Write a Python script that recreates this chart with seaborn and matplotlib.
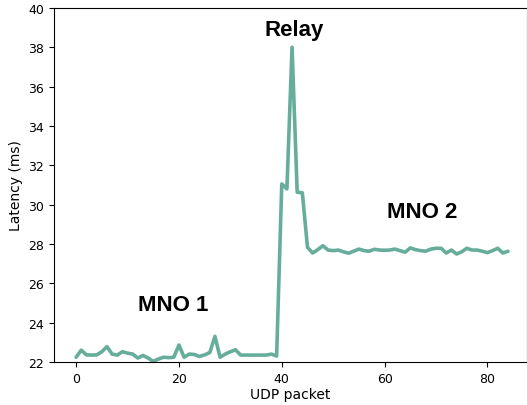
import matplotlib
matplotlib.use("Agg")
import matplotlib.pyplot as plt
import seaborn as sns
import pandas as pd

# latency per UDP packet (ms)
latency = [
    22.24, 22.60, 22.36, 22.35, 22.36, 22.52, 22.78, 22.40, 22.35, 22.52,
    22.45, 22.40, 22.20, 22.33, 22.20, 22.03, 22.15, 22.24, 22.22, 22.24,
    22.86, 22.24, 22.40, 22.38, 22.28, 22.36, 22.48, 23.30, 22.24, 22.40,
    22.52, 22.62, 22.35, 22.35, 22.35, 22.35, 22.35, 22.35, 22.40, 22.30,
    31.05, 30.80, 38.00, 30.63, 30.60, 27.83, 27.54, 27.71, 27.91, 27.69,
    27.66, 27.69, 27.60, 27.53, 27.63, 27.74, 27.66, 27.63, 27.73, 27.69,
    27.68, 27.69, 27.74, 27.66, 27.58, 27.80, 27.71, 27.66, 27.63, 27.74,
    27.78, 27.78, 27.54, 27.69, 27.49, 27.60, 27.78, 27.69, 27.69, 27.63,
    27.56, 27.66, 27.78, 27.54, 27.63,
]
packets = list(range(len(latency)))

labels = ["MNO 1", "Relay", "MNO 2"]
label_x = [18.9, 42.4, 67.3]
label_y = [24.9, 38.9, 29.63]

df = pd.DataFrame({"UDP packet": packets, "Latency (ms)": latency})

sns.set_style("ticks", {"text.color": "black", "axes.labelcolor": "black",
                        "xtick.color": "black", "ytick.color": "black",
                        "axes.edgecolor": "black"})
fig = plt.figure(figsize=(5.27, 4.06), dpi=100)
ax = fig.add_axes([0.1025, 0.106, 0.8975, 0.872])

sns.lineplot(x="UDP packet", y="Latency (ms)", data=df, color="#67ad9b", linewidth=2.6, ax=ax)

# region labels
for txt, x, y in zip(labels, label_x, label_y):
    ax.text(x, y, txt, ha="center", va="center", fontsize=16, fontweight="bold",
            color="black", family=["Liberation Sans", "DejaVu Sans"])

ax.set_xlim(-4.3, 87.7)
ax.set_ylim(22, 40)
ax.set_yticks(range(22, 41, 2))
ax.set_xticks([0, 20, 40, 60, 80])
ax.tick_params(labelsize=9)
ax.set_xlabel("UDP packet", fontsize=10, labelpad=2)
ax.set_ylabel("Latency (ms)", fontsize=10)

plt.savefig("out.png", dpi=100)
plt.close()
